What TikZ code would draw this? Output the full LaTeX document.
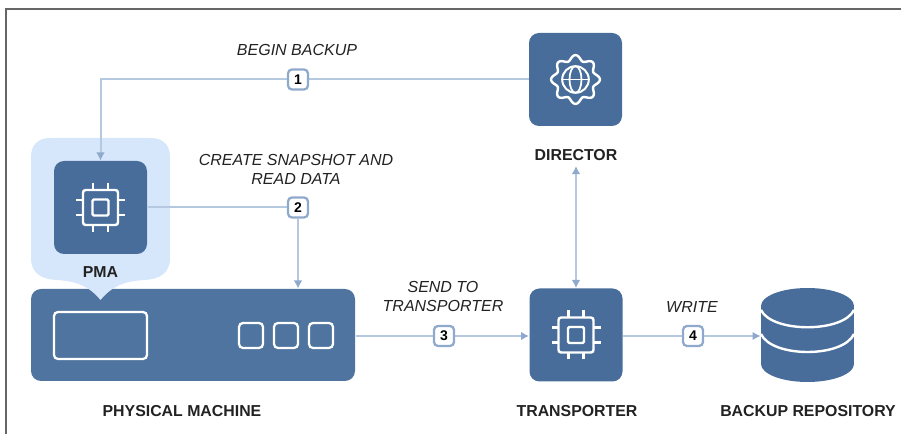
\documentclass[tikz,border=0pt]{standalone}
\usepackage{fontspec}
\setmainfont{Liberation Sans}
\usetikzlibrary{arrows.meta}

\definecolor{tilecol}{HTML}{486D9B}
\definecolor{machinecol}{HTML}{4F749F}
\definecolor{halocol}{HTML}{D6E7FB}
\definecolor{linecol}{HTML}{B4C8E0}
\definecolor{tipcol}{HTML}{8FA9CC}
\definecolor{framecol}{HTML}{666666}
\definecolor{textcol}{HTML}{222222}

\tikzset{every picture/.style={line width=0.75pt}}
\tikzset{
  tile/.style={fill=tilecol, rounded corners=7.5pt, minimum size=69.75pt, inner sep=0pt},
  slot/.style={draw=white, line width=1.7pt, rounded corners=3pt},
  badge/.style={draw=tipcol, fill=white, line width=1.7pt, rounded corners=3pt, minimum size=15pt, inner sep=0pt, text=black, font=\bfseries\fontsize{10.5}{12}\selectfont},
  title/.style={text=textcol, font=\bfseries\fontsize{11.9}{13}\selectfont},
  caption/.style={text=textcol, align=center, font=\itshape\fontsize{12}{14}\selectfont},
  link/.style={draw=linecol, line width=1.5pt},
  flow/.style={link, -{Latex[length=6pt,width=6.5pt,color=tipcol]}},
  bothflow/.style={link, {Latex[length=6pt,width=6.5pt,color=tipcol]}-{Latex[length=6pt,width=6.5pt,color=tipcol]}},
  icon/.style={draw=white, line width=1.8pt},
  chip/.pic={
    \draw[icon, rounded corners=2pt] (-17.5,-17.5) rectangle (17.5,17.5);
    \draw[icon, rounded corners=1pt] (-8,-8) rectangle (8,8);
    \foreach \p in {-7.5,7.5} {
      \draw[icon] (\p,-24.5) -- (\p,-17.5);
      \draw[icon] (\p,17.5) -- (\p,24.5);
      \draw[icon] (-24.5,\p) -- (-17.5,\p);
      \draw[icon] (17.5,\p) -- (24.5,\p);
    }
  },
  gearglobe/.pic={
    \draw[icon, domain=0:360, samples=145, smooth] plot (\x-90:{21.8+2.6*cos(8*\x)});
    \draw[icon, line width=1.5pt] (0,0) circle (13.3);
    \draw[icon, line width=1.3pt] (0,0) ellipse [x radius=6, y radius=13.3];
    \draw[icon, line width=1.3pt] (-13.3,0) -- (13.3,0);
  },
}

\begin{document}
\begin{tikzpicture}[x=0.75pt,y=0.75pt,yscale=-1,xscale=1]
\useasboundingbox (0,0) rectangle (901,434);

%Shape: Frame
\draw [framecol, line width=1.5pt] (6,434) -- (6,9) -- (901,9);

%Shape: Physical machine
\node [tile, fill=machinecol, minimum width=243pt, minimum height=69pt] (machine) at (193,335) {};
\draw [slot] (54,312) rectangle (147,359);
\draw [slot] (239,323) rectangle (263,348);
\draw [slot] (274,323) rectangle (298,348);
\draw [slot] (309,323) rectangle (333,348);

%Shape: Halo
\fill [halocol] (50,138) -- (151,138) .. controls (163,138) and (170,145) .. (170,157) -- (170,258)
  .. controls (170,273) and (160,279) .. (145,280) .. controls (125,281) and (112,286) .. (100.5,300)
  .. controls (89,286) and (76,281) .. (56,280) .. controls (41,279) and (31,273) .. (31,258)
  -- (31,157) .. controls (31,145) and (38,138) .. (50,138) -- cycle ;

%Shape: Tiles
\node [tile] (pma) at (100.5,207.5) {};
\node [tile] (director) at (575.5,79.5) {};
\node [tile] (transporter) at (576,335) {};
\pic at (100.5,207.5) {chip};
\pic at (576,335) {chip};
\pic at (575.5,79.5) {gearglobe};

%Shape: Backup repository
\node [minimum width=69.75pt, minimum height=69.75pt, inner sep=0pt] (repo) at (807.5,335) {};
\fill [tilecol] (807.5,306) ellipse [x radius=46.5, y radius=18];
\fill [tilecol] (807.5,364) ellipse [x radius=46.5, y radius=18];
\fill [tilecol] (761,306) rectangle (854,364);
\draw [icon] (761,310) .. controls (772,333) and (843,333) .. (854,310);
\draw [icon] (761,334) .. controls (772,358) and (843,358) .. (854,334);

% Text Node
\draw (100.5,272) node [title] (pmalabel) {PMA};
\draw (576,155.5) node [title] (directorlabel) {DIRECTOR};
\draw (182,411) node [title] (machinelabel) {PHYSICAL MACHINE};
\draw (577,411) node [title] (transporterlabel) {TRANSPORTER};
\draw (808,411) node [title] (repolabel) {BACKUP REPOSITORY};
\draw (297,50) node [caption] (backuplabel) {BEGIN BACKUP};
\draw (296,169.5) node [caption] (snapshotlabel) {CREATE SNAPSHOT AND\\READ DATA};
\draw (443,296.5) node [caption] (sendlabel) {SEND TO\\TRANSPORTER};
\draw (692,307) node [caption] (writelabel) {WRITE};

%Shape: Badges
\node [badge] (one) at (298,79.5) {1};
\node [badge] (two) at (298,207.5) {2};
\node [badge] (three) at (444,336) {3};
\node [badge] (four) at (693,336) {4};

%Straight Lines
\draw [link] (director.west) -- (one);
\draw [flow] (one) -| (pma.north);
\draw [link] (pma.east) -- (two);
\draw [flow] (two) -- (two |- machine.north);
\draw [link] (machine.east |- three) -- (three);
\draw [flow] (three) -- (transporter.west |- three);
\draw [link] (transporter.east |- four) -- (four);
\draw [flow] (four) -- (repo.west |- four);
\draw [bothflow] (directorlabel.south) -- (transporter.north);

\end{tikzpicture}
\end{document}
